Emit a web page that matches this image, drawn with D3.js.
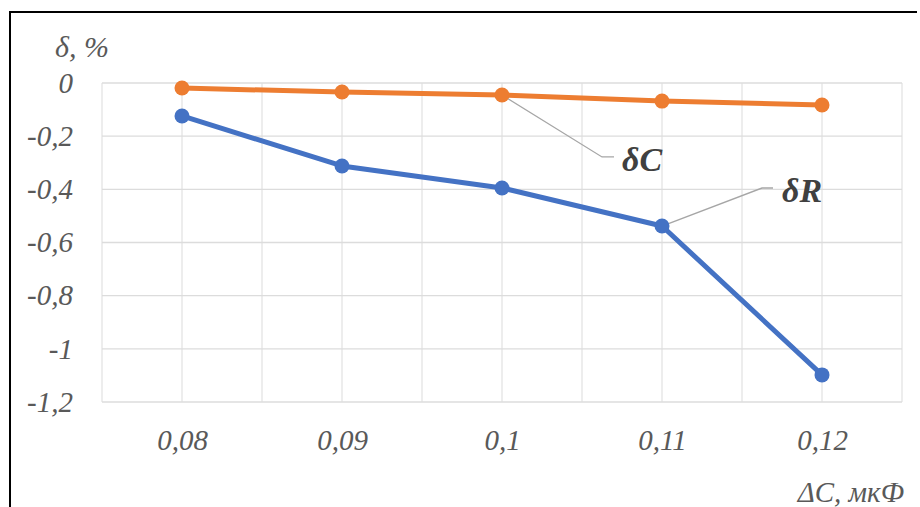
<!DOCTYPE html>
<html><head><meta charset="utf-8">
<script src="https://cdn.jsdelivr.net/npm/d3@7"></script>
<style>body{margin:0;background:#fff}svg{display:block}
text{font-family:"Times New Roman","Liberation Serif",serif;font-style:italic}</style>
</head><body>
<script>
const categories = [0.08, 0.09, 0.1, 0.11, 0.12];
const categoryLabels = ["0,08", "0,09", "0,1", "0,11", "0,12"];
const deltaC = [-0.019, -0.034, -0.045, -0.068, -0.083];
const deltaR = [-0.124, -0.312, -0.395, -0.538, -1.098];
const yTicks = [0, -0.2, -0.4, -0.6, -0.8, -1, -1.2];
const yTickLabels = ["0", "-0,2", "-0,4", "-0,6", "-0,8", "-1", "-1,2"];

const W = 920, H = 507;
const svg = d3.select("body").append("svg").attr("width", W).attr("height", H);
const font = "'Times New Roman', 'Liberation Serif', serif";

// frame (top and left visible)
svg.append("path").attr("d", "M10,520 V12 H917").attr("fill", "none").attr("stroke", "#000").attr("stroke-width", 2);

const plot = {l: 102, t: 83, r: 902, b: 402};
const x = d3.scaleLinear().domain([0.075, 0.125]).range([plot.l, plot.r]);
const y = d3.scaleLinear().domain([-1.2, 0]).range([plot.b, plot.t]);

// gridlines
const xGrid = d3.range(0, 11).map(i => 0.075 + i * 0.005);
svg.append("g").selectAll("line").data(xGrid).join("line")
  .attr("x1", d => x(d)).attr("x2", d => x(d)).attr("y1", plot.t).attr("y2", plot.b)
  .attr("stroke", "#e3e3e3").attr("stroke-width", 1.3);
svg.append("g").selectAll("line").data(yTicks).join("line")
  .attr("x1", plot.l).attr("x2", plot.r).attr("y1", d => y(d)).attr("y2", d => y(d))
  .attr("stroke", "#dcdcdc").attr("stroke-width", 1.3);

function styleText(sel, size, bold) {
  sel.style("font-family", font).style("font-style", "italic").style("font-size", size + "px")
     .style("font-weight", bold ? "bold" : "normal");
}

// y axis labels
const yAxis = d3.axisLeft(y).tickValues(yTicks).tickFormat((d, i) => yTickLabels[i]).tickSize(0).tickPadding(29);
const gy = svg.append("g").attr("transform", `translate(${plot.l},0)`).call(yAxis);
gy.attr("font-family", null).attr("font-size", null);
gy.select(".domain").remove();
gy.selectAll("text").call(styleText, 29).attr("fill", "#595959");

// x axis labels
const xAxis = d3.axisBottom(x).tickValues(categories).tickFormat((d, i) => categoryLabels[i]).tickSize(0).tickPadding(27);
const gx = svg.append("g").attr("transform", `translate(0,${plot.b})`).call(xAxis);
gx.attr("font-family", null).attr("font-size", null);
gx.select(".domain").remove();
gx.selectAll("text").call(styleText, 29).attr("fill", "#595959");

// axis titles
svg.append("text").attr("x", 55).attr("y", 57).call(styleText, 30).attr("fill", "#595959").text("δ, %");
svg.append("text").attr("x", 904).attr("y", 502).attr("text-anchor", "end").call(styleText, 29).attr("fill", "#595959").text("ΔC, мкФ");

// leader lines
const leader = (i, series, dx, dy, hx) => {
  const px = x(categories[i]), py = y(series[i]);
  return `M${px},${py} L${px + dx},${py + dy} h${hx}`;
};
svg.append("path").attr("d", leader(2, deltaC, 100, 62, 12)).attr("fill", "none").attr("stroke", "#a6a6a6").attr("stroke-width", 1.3);
svg.append("path").attr("d", leader(3, deltaR, 100, -38, 11)).attr("fill", "none").attr("stroke", "#a6a6a6").attr("stroke-width", 1.3);

// series
const line = d3.line().x((d, i) => x(categories[i])).y(d => y(d));
const series = [{v: deltaR, c: "#4472C4"}, {v: deltaC, c: "#ED7D31"}];
series.forEach(s => {
  svg.append("path").datum(s.v).attr("d", line).attr("fill", "none").attr("stroke", s.c).attr("stroke-width", 5).attr("stroke-linejoin", "round");
  svg.append("g").selectAll("circle").data(s.v).join("circle")
    .attr("cx", (d, i) => x(categories[i])).attr("cy", d => y(d)).attr("r", 7.5).attr("fill", s.c);
});

// labels
svg.append("text").attr("x", 622).attr("y", 171).call(styleText, 34, true).attr("fill", "#404040").text("δC");
svg.append("text").attr("x", 782).attr("y", 202).call(styleText, 34, true).attr("fill", "#404040").text("δR");
</script>
</body></html>
